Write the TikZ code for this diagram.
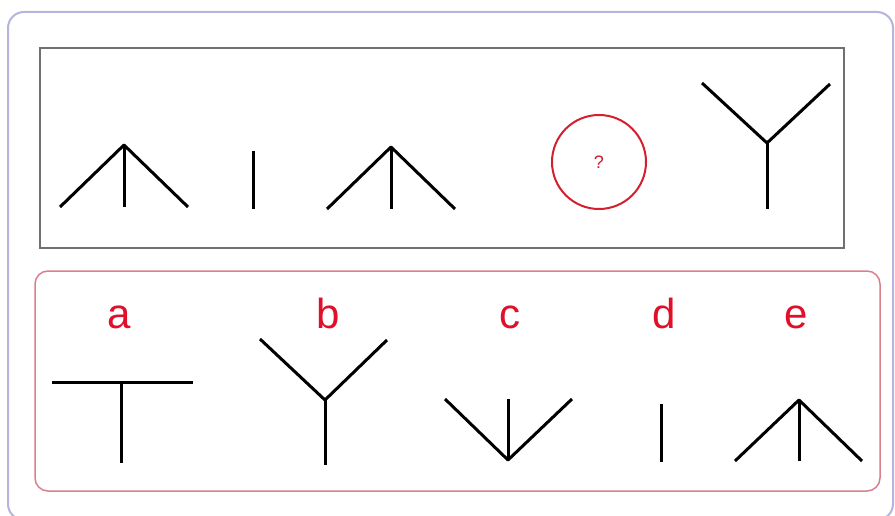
\documentclass[tikz,border=0pt]{standalone}
\usepackage{fontspec}
\setmainfont{Liberation Sans}
\definecolor{lav}{HTML}{B4B4DC}
\definecolor{boxgray}{HTML}{707070}
\definecolor{pinkred}{HTML}{D8808E}
\definecolor{qred}{HTML}{D4202E}
\definecolor{lblred}{HTML}{E0102A}
\tikzset{
  stroke/.style={line width=3pt, line cap=butt, line join=round, black},
  lbl/.style={text=lblred, font=\fontsize{42}{42}\selectfont, inner sep=0pt, anchor=base},
}
\begin{document}
\begin{tikzpicture}[x=1pt,y=-1pt]
\useasboundingbox (0,0) rectangle (895,516);
\fill[white] (0,0) rectangle (895,516);
% outer frame
\draw[lav, line width=2pt, rounded corners=16pt] (8,12) rectangle (893,520);
% top box
\draw[boxgray, line width=1.5pt] (40,48) rectangle (844,248);
% bottom box
\draw[pinkred, line width=1.5pt, rounded corners=13pt] (35,271) rectangle (880,491);

% figure 1 (arrow up)
\coordinate (f1a) at (124,145);
\coordinate (f1l) at (60,207);
\coordinate (f1r) at (188,207);
\coordinate (f1s) at (124,207);
\draw[stroke] (f1l) -- (f1a) -- (f1r);
\draw[stroke] (f1a) -- (f1s);
% figure 2 (vertical bar)
\coordinate (f2t) at (253,151);
\coordinate (f2b) at (253,209);
\draw[stroke] (f2t) -- (f2b);
% figure 3
\coordinate (f3a) at (391,147);
\coordinate (f3l) at (327,209);
\coordinate (f3r) at (455,209);
\coordinate (f3s) at (391,209);
\draw[stroke] (f3l) -- (f3a) -- (f3r);
\draw[stroke] (f3a) -- (f3s);
% question circle
\node[circle, draw=qred, line width=2pt, minimum size=94pt, inner sep=0pt,
      text=qred!80!purple, font=\fontsize{18}{18}\selectfont] (q) at (599,162) {?};
% figure 5 (Y)
\coordinate (f5j) at (767,143);
\coordinate (f5l) at (702,83);
\coordinate (f5r) at (830,84);
\coordinate (f5s) at (767,209);
\draw[stroke] (f5l) -- (f5j) -- (f5r);
\draw[stroke] (f5j) -- (f5s);

% labels
\node[lbl] (la) at (119,328) {a};
\node[lbl] (lb) at (328,328) {b};
\node[lbl] (lc) at (510,328) {c};
\node[lbl] (ld) at (664,328) {d};
\node[lbl] (le) at (796,328) {e};

% option a (T)
\coordinate (al) at (52,382);
\coordinate (ar) at (193,382);
\coordinate (am) at (121,382);
\coordinate (ab) at (121,463);
\draw[stroke] (al) -- (ar);
\draw[stroke] (am) -- (ab);
% option b (Y)
\coordinate (bj) at (325,400);
\coordinate (bl) at (260,339);
\coordinate (br) at (387,340);
\coordinate (bs) at (325,465);
\draw[stroke] (bl) -- (bj) -- (br);
\draw[stroke] (bj) -- (bs);
% option c
\coordinate (cv) at (508,460);
\coordinate (cl) at (445,399);
\coordinate (cr) at (572,399);
\coordinate (ct) at (508,399);
\draw[stroke] (cl) -- (cv) -- (cr);
\draw[stroke] (ct) -- (cv);
% option d
\coordinate (dt) at (661,404);
\coordinate (db) at (661,462);
\draw[stroke] (dt) -- (db);
% option e
\coordinate (ea) at (799,400);
\coordinate (el) at (735,461);
\coordinate (er) at (862,461);
\coordinate (es) at (799,461);
\draw[stroke] (el) -- (ea) -- (er);
\draw[stroke] (ea) -- (es);
\end{tikzpicture}
\end{document}
